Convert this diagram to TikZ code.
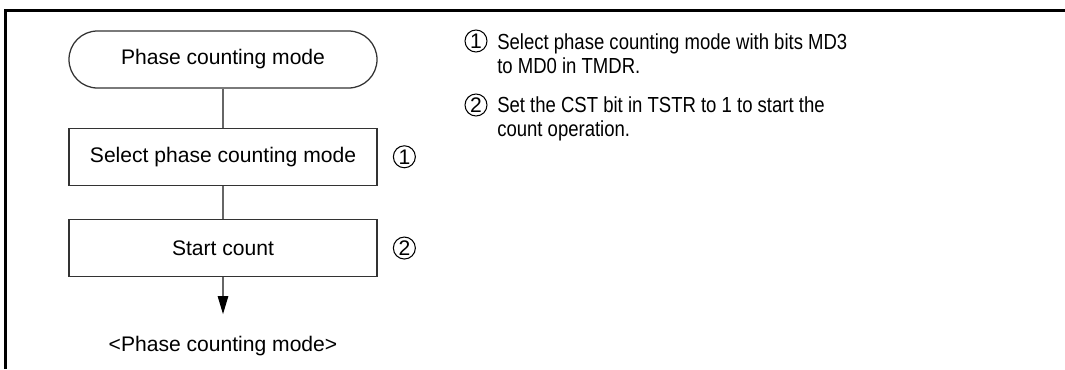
\documentclass[tikz,border=0pt]{standalone}
\usepackage{fontspec}
\setmainfont{Liberation Sans}
\newfontfamily\notefont[FakeStretch=0.85]{Liberation Sans}
\usepackage{tikz}
\usetikzlibrary{positioning, arrows.meta}

\begin{document}
\begin{tikzpicture}[
  block/.style={
    rectangle, draw=black!80, line width=0.9pt, minimum width=7.7cm,
    minimum height=1.425cm, inner sep=0pt, align=center,
    font=\fontsize{15}{18}\selectfont
  },
  terminal/.style={block, rounded corners=0.71cm},
  num/.style={circle, draw, line width=0.75pt, minimum size=0.55cm, inner sep=0pt,
    font=\fontsize{15}{15}\selectfont},
  note/.style={font=\notefont\fontsize{15.5}{17}\selectfont, align=left, inner sep=0pt,
    anchor=base west},
  link/.style={draw=black!60, line width=1pt},
  arrow/.style={link, -{Triangle[length=4.5mm, width=2.6mm, color=black]}},
  node distance=0.975cm and 0.4cm
]
\useasboundingbox (0,0) rectangle (26.625,9.225);

% ==================== FRAME ====================
\draw[line width=2.1pt] (0.1325,0) -- (0.1325,8.9625) -- (26.625,8.9625);

% ==================== FLOW ====================
\node[terminal] (start) at (5.575,7.7375) {Phase counting mode};
\node[block, below=0.975cm of start] (select) {Select phase counting mode};
\node[block, below=0.825cm of select] (count) {Start count};
\coordinate[below=0.925cm of count] (tip);
\node[font=\fontsize{15}{18}\selectfont] (mode) at ([yshift=-0.8cm]tip) {<Phase counting mode>};

\node[num, right=0.38cm of select] (s1) {1};
\node[num, right=0.38cm of count] (s2) {2};

% ==================== CONNECTIONS ====================
\draw[link] (start) -- (select);
\draw[link] (select) -- (count);
\draw[arrow] (count) -- (tip);

% ==================== NOTES ====================
% (base of a two-line note = its last line)
\node[num] (n1) at (11.9,8.2) {1};
\node[note] (t1) at (12.425,7.38) {Select phase counting mode with bits MD3\\to MD0 in TMDR.};
\node[num] (n2) at (11.9,6.6) {2};
\node[note] (t2) at (12.425,5.805) {Set the CST bit in TSTR to 1 to start the\\count operation.};
\end{tikzpicture}
\end{document}
